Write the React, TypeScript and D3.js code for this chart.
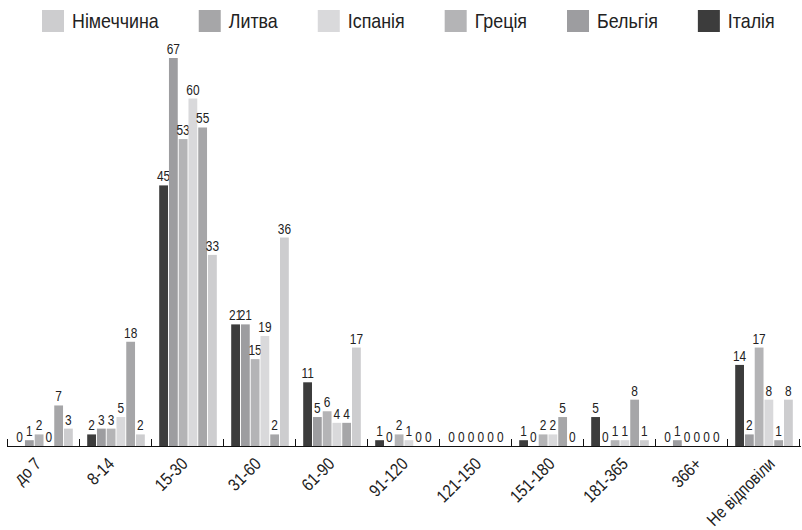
import React, { useEffect, useRef } from 'react';
import * as d3 from 'd3';

// Duration groups (days)
const categories = [
  'до 7', '8-14', '15-30', '31-60', '61-90', '91-120',
  '121-150', '151-180', '181-365', '366+', 'Не відповіли',
];

// Values per country, one per duration group
const italy = [0, 2, 45, 21, 11, 1, 0, 1, 5, 0, 14];
const belgium = [1, 3, 67, 21, 5, 0, 0, 0, 0, 1, 2];
const greece = [2, 3, 53, 15, 6, 2, 0, 2, 1, 0, 17];
const spain = [0, 5, 60, 19, 4, 1, 0, 2, 1, 0, 8];
const lithuania = [7, 18, 55, 2, 4, 0, 0, 5, 8, 0, 1];
const germany = [3, 2, 33, 36, 17, 0, 0, 0, 1, 0, 8];

const countryNames = ['Німеччина', 'Литва', 'Іспанія', 'Греція', 'Бельгія', 'Італія'];

const W = 802;
const H = 530;
const FONT = "'Liberation Sans', Arial, sans-serif";
const NARROW = 0.85; // horizontal squeeze for a condensed look

export default function App() {
  const ref = useRef<SVGSVGElement | null>(null);

  useEffect(() => {
    document.body.style.margin = '0';
    const svg = d3.select(ref.current);
    svg.selectAll('*').remove();

    const colors: Record<string, string> = {
      'Німеччина': '#cdcdcf',
      'Литва': '#a6a6a8',
      'Іспанія': '#d9d9db',
      'Греція': '#b4b4b6',
      'Бельгія': '#9d9da0',
      'Італія': '#3c3c3c',
    };
    const valuesBy: Record<string, number[]> = {
      'Німеччина': germany,
      'Литва': lithuania,
      'Іспанія': spain,
      'Греція': greece,
      'Бельгія': belgium,
      'Італія': italy,
    };
    // bars inside a group run in reverse legend order
    const groupOrder = countryNames.slice().reverse();

    const narrowText = (
      parent: d3.Selection<SVGGElement, unknown, null, undefined>,
      tx: number, ty: number, txt: string, size: number,
      anchor: string, rotate = 0,
    ) => parent.append('text')
      .attr('transform', `translate(${tx},${ty}) rotate(${rotate}) scale(${NARROW},1)`)
      .attr('text-anchor', anchor)
      .attr('font-family', FONT)
      .attr('font-size', size)
      .attr('fill', '#222')
      .text(txt);

    const baseY = 446;
    const x = d3.scaleBand<string>().domain(categories).range([8, 800]).paddingInner(0.2).paddingOuter(0.1);
    const xSub = d3.scaleBand<string>().domain(groupOrder).range([0, x.bandwidth()]).paddingInner(0.1);
    const y = d3.scaleLinear().domain([0, 67]).range([baseY, 58]);

    const g = svg.append('g') as d3.Selection<SVGGElement, unknown, null, undefined>;
    categories.forEach((cat, ci) => {
      const gx = x(cat) as number;
      groupOrder.forEach((name) => {
        const v = valuesBy[name][ci];
        const bx = gx + (xSub(name) as number);
        if (v > 0) {
          g.append('rect')
            .attr('x', bx)
            .attr('y', y(v))
            .attr('width', xSub.bandwidth())
            .attr('height', baseY - y(v))
            .attr('fill', colors[name]);
        }
        narrowText(g, bx + xSub.bandwidth() / 2, y(v) - 4, String(v), 14, 'middle');
      });
    });

    // axis baseline and upward ticks at group boundaries
    const step = x.step();
    const axis = svg.append('g') as d3.Selection<SVGGElement, unknown, null, undefined>;
    axis.append('line')
      .attr('x1', 7).attr('x2', 801).attr('y1', baseY + 0.5).attr('y2', baseY + 0.5)
      .attr('stroke', '#111').attr('stroke-width', 1);
    d3.range(categories.length + 1).forEach((i) => {
      const tx = Math.round(8 + i * step) - 0.5;
      axis.append('line')
        .attr('x1', tx).attr('x2', tx).attr('y1', baseY).attr('y2', baseY - 7)
        .attr('stroke', '#111').attr('stroke-width', 1);
    });
    // rotated category labels
    const xLabel = d3.scalePoint<string>().domain(categories).range([42, 776]);
    categories.forEach((cat) => {
      narrowText(axis, xLabel(cat) as number, baseY + 19, cat, 17.5, 'end', -45);
    });

    // legend
    const leg = svg.append('g') as d3.Selection<SVGGElement, unknown, null, undefined>;
    let lx = 42;
    countryNames.forEach((name) => {
      leg.append('rect')
        .attr('x', lx).attr('y', 10).attr('width', 22).attr('height', 22)
        .attr('fill', colors[name]);
      const t = narrowText(leg, lx + 30, 28, name, 21, 'start');
      const tw = (t.node() as SVGTextElement).getComputedTextLength() * NARROW;
      lx = lx + 30 + tw + 40;
    });
  }, []);

  return <svg ref={ref} width={W} height={H} style={{ display: 'block', background: '#fff' }} />;
}
